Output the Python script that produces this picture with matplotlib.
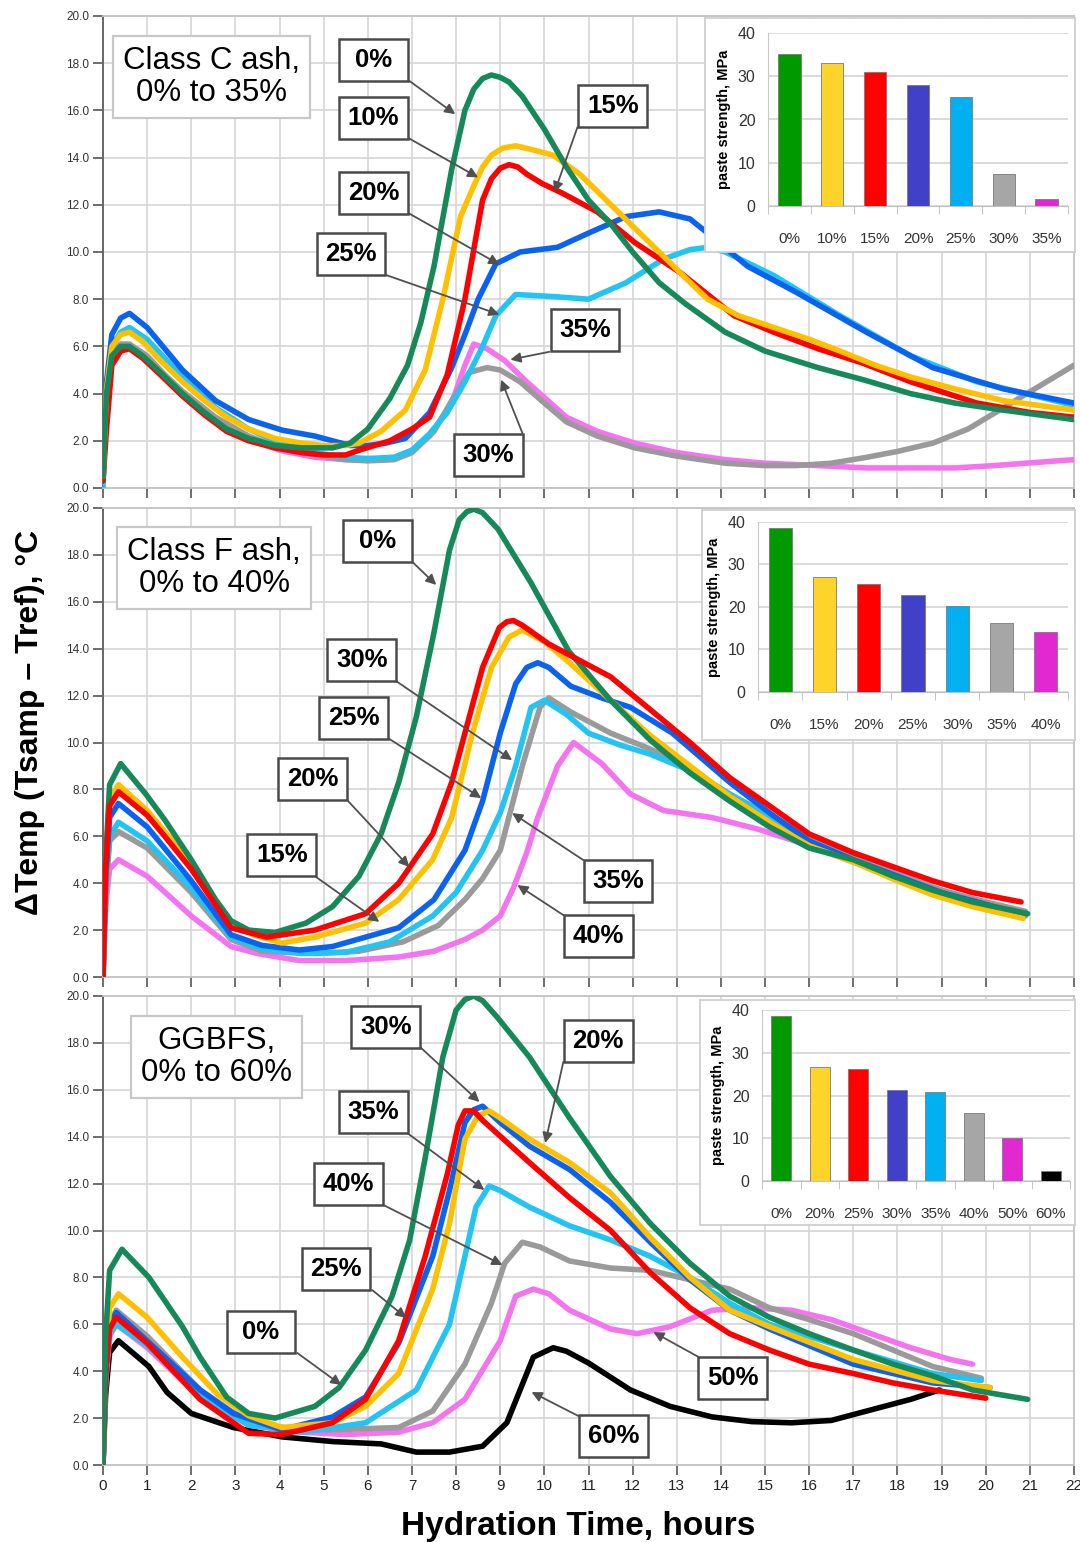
import numpy as np
import matplotlib.pyplot as plt
from matplotlib.patches import Rectangle

# ---------------- Class C ash (top panel) ----------------
c0_h = [0, 0.08, 0.2, 0.4, 0.6, 0.9, 1.3, 1.8, 2.3, 2.8, 3.3, 3.9, 4.5, 5.2, 5.6, 6.0, 6.5, 6.9, 7.2, 7.5, 7.9, 8.2, 8.4, 8.6, 8.8, 9.0, 9.2, 9.5, 10.0, 10.5, 11.0, 11.5, 12.0, 12.6, 13.2, 14.1, 15.0, 16.2, 17.2, 18.3, 19.3, 20.4, 21.2, 22]
c0_t = [0.5, 4.0, 5.6, 6.0, 6.0, 5.6, 4.9, 4.0, 3.2, 2.5, 2.1, 1.8, 1.7, 1.7, 1.9, 2.5, 3.8, 5.2, 7.0, 9.4, 13.5, 16.0, 16.9, 17.35, 17.5, 17.4, 17.2, 16.6, 15.2, 13.6, 12.2, 11.2, 10.0, 8.7, 7.8, 6.6, 5.8, 5.1, 4.6, 4.0, 3.6, 3.3, 3.1, 2.9]
c10_h = [0, 0.08, 0.2, 0.4, 0.6, 0.9, 1.3, 1.8, 2.3, 2.8, 3.3, 3.9, 4.5, 5.0, 5.5, 5.8, 6.3, 6.85, 7.3, 7.7, 8.1, 8.4, 8.6, 8.8, 9.05, 9.35, 9.8, 10.2, 10.8, 11.4, 12.0, 12.6, 13.2, 13.7, 14.4, 15.2, 16.0, 16.7, 17.5, 18.3, 19.3, 20.4, 21.2, 22]
c10_t = [0.5, 4.2, 6.0, 6.5, 6.6, 6.2, 5.4, 4.5, 3.7, 3.0, 2.5, 2.1, 1.9, 1.8, 1.8, 1.9, 2.4, 3.3, 5.0, 8.0, 11.5, 12.8, 13.6, 14.1, 14.4, 14.5, 14.3, 14.1, 13.3, 12.2, 11.1, 10.0, 8.9, 8.0, 7.3, 6.8, 6.3, 5.8, 5.2, 4.7, 4.2, 3.7, 3.5, 3.3]
c15_h = [0, 0.08, 0.2, 0.4, 0.6, 0.9, 1.3, 1.8, 2.3, 2.8, 3.3, 3.9, 4.5, 5.0, 5.5, 5.8, 6.5, 7.0, 7.4, 7.8, 8.2, 8.6, 8.8, 9.0, 9.2, 9.4, 9.6, 9.95, 10.4, 11.2, 12.05, 13.1, 14.3, 15.2, 16.2, 17.2, 18.3, 19.8, 21, 22]
c15_t = [0.3, 2.5, 5.2, 5.8, 5.9, 5.5, 4.8, 3.9, 3.1, 2.4, 2.0, 1.7, 1.5, 1.4, 1.4, 1.6, 2.0, 2.5, 3.0, 4.8, 8.0, 12.2, 13.1, 13.55, 13.7, 13.6, 13.3, 12.9, 12.5, 11.7, 10.4, 9.1, 7.3, 6.6, 5.9, 5.3, 4.5, 3.6, 3.2, 3.0]
c20_h = [0, 0.08, 0.2, 0.4, 0.6, 1.0, 1.4, 1.8, 2.55, 3.3, 4.06, 4.8, 5.2, 5.6, 6.0, 6.4, 6.85, 7.4, 7.9, 8.2, 8.5, 8.9, 9.45, 10.3, 11.0, 11.85, 12.6, 13.3, 13.7, 14.6, 15.7, 17.3, 18.8, 20.4, 22]
c20_t = [0.5, 4.5, 6.5, 7.2, 7.4, 6.8, 5.9, 5.0, 3.7, 2.9, 2.45, 2.2, 2.0, 1.8, 1.8, 1.9, 2.1, 3.2, 5.1, 6.5, 8.0, 9.5, 10.0, 10.2, 10.8, 11.5, 11.7, 11.4, 10.8, 9.4, 8.3, 6.6, 5.1, 4.2, 3.6]
c25_h = [0, 0.08, 0.2, 0.4, 0.6, 1.0, 1.4, 1.8, 2.55, 3.3, 4.0, 4.8, 5.5, 6.0, 6.6, 7.0, 7.4, 7.8, 8.2, 8.6, 8.9, 9.35, 10.3, 11.0, 11.85, 12.7, 13.3, 13.7, 14.1, 15.2, 16.7, 18.3, 19.8, 20.9, 22]
c25_t = [0.0, 3.8, 6.0, 6.6, 6.8, 6.3, 5.5, 4.7, 3.4, 2.5, 1.9, 1.5, 1.3, 1.25, 1.3, 1.6, 2.3, 3.2, 4.5, 6.0, 7.3, 8.2, 8.1, 8.0, 8.7, 9.7, 10.1, 10.2, 10.0, 9.0, 7.3, 5.6, 4.5, 4.0, 3.5]
c30_h = [0, 0.08, 0.2, 0.4, 0.6, 1.0, 1.4, 1.8, 2.55, 3.3, 4.0, 4.8, 5.5, 6.0, 6.6, 7.0, 7.5, 7.9, 8.3, 8.7, 9.0, 9.45, 10.0, 10.5, 11.2, 12.05, 13.0, 14.1, 15.0, 15.7, 16.5, 17.3, 18.0, 18.8, 19.6, 20.4, 21.2, 22]
c30_t = [0.3, 4.0, 5.7, 6.1, 6.1, 5.6, 4.8, 4.1, 3.0, 2.2, 1.7, 1.4, 1.2, 1.15, 1.2, 1.5, 2.4, 3.7, 4.9, 5.1, 5.0, 4.5, 3.6, 2.8, 2.2, 1.7, 1.35, 1.05, 0.95, 0.95, 1.05, 1.3, 1.55, 1.9, 2.5, 3.4, 4.3, 5.2]
c35_h = [0, 0.08, 0.2, 0.4, 0.6, 1.0, 1.4, 1.8, 2.55, 3.3, 4.0, 4.8, 5.5, 6.0, 6.6, 7.0, 7.4, 7.9, 8.2, 8.4, 8.7, 9.1, 9.6, 10.5, 11.2, 12.05, 13.0, 14.1, 15.0, 16.2, 17.3, 18.3, 19.3, 20.2, 20.9, 22]
c35_t = [0.3, 3.5, 5.5, 6.0, 6.0, 5.5, 4.7, 4.0, 2.9, 2.1, 1.6, 1.3, 1.2, 1.2, 1.3, 1.6, 2.2, 3.6, 5.2, 6.1, 5.9, 5.4, 4.5, 3.0, 2.4, 1.9, 1.5, 1.2, 1.05, 0.95, 0.85, 0.85, 0.85, 0.95, 1.05, 1.2]

# ---------------- Class F ash (middle panel) ----------------
f0_h = [0, 0.06, 0.15, 0.4, 0.97, 1.4, 2.0, 2.55, 2.9, 3.3, 3.9, 4.6, 5.2, 5.8, 6.3, 6.7, 7.1, 7.5, 7.85, 8.07, 8.25, 8.4, 8.6, 8.95, 9.7, 10.55, 11.5, 12.4, 13.3, 14.2, 15.1, 16.0, 17.0, 17.9, 18.8, 19.7, 20.95]
f0_t = [0.0, 5.0, 8.2, 9.1, 7.8, 6.7, 5.0, 3.3, 2.4, 2.0, 1.9, 2.3, 3.0, 4.3, 6.1, 8.3, 11.1, 14.7, 18.2, 19.5, 19.85, 19.95, 19.8, 19.1, 16.8, 13.9, 11.8, 10.1, 8.7, 7.5, 6.4, 5.5, 5.0, 4.3, 3.7, 3.2, 2.7]
f15_h = [0, 0.06, 0.15, 0.35, 1.0, 1.4, 2.0, 2.9, 3.4, 4.05, 4.8, 5.95, 6.7, 7.47, 7.9, 8.37, 8.8, 9.2, 9.5, 10.0, 10.57, 11.5, 12.4, 13.3, 14.2, 15.1, 16.0, 17.0, 18.0, 18.8, 19.7, 20.85]
f15_t = [0.0, 4.8, 7.6, 8.2, 7.1, 6.2, 4.8, 2.3, 1.8, 1.45, 1.7, 2.3, 3.3, 5.0, 6.8, 10.4, 13.2, 14.5, 14.8, 14.3, 13.4, 11.8, 10.3, 9.0, 7.7, 6.6, 5.6, 4.9, 4.1, 3.5, 3.0, 2.5]
f20_h = [0, 0.06, 0.15, 0.35, 1.0, 1.4, 2.0, 2.9, 3.7, 4.8, 5.95, 6.7, 7.47, 7.9, 8.2, 8.6, 8.98, 9.15, 9.3, 9.5, 10.1, 11.5, 12.4, 13.3, 14.2, 15.1, 16.0, 17.0, 17.9, 18.8, 19.7, 20.8]
f20_t = [0.0, 4.5, 7.3, 7.9, 6.9, 6.0, 4.6, 2.1, 1.7, 2.0, 2.7, 4.0, 6.1, 8.3, 10.4, 13.2, 14.9, 15.15, 15.2, 15.0, 14.2, 12.8, 11.4, 10.0, 8.5, 7.3, 6.1, 5.3, 4.7, 4.1, 3.6, 3.2]
f25_h = [0, 0.06, 0.15, 0.35, 1.0, 2.0, 2.9, 3.6, 4.45, 5.2, 6.7, 7.5, 8.2, 8.6, 9.0, 9.35, 9.6, 9.85, 10.1, 10.6, 11.3, 11.95, 12.9, 14.2, 15.1, 16.0, 17.0, 18.0, 19.0, 20.0, 20.85]
f25_t = [0.0, 4.2, 6.8, 7.4, 6.4, 4.1, 1.8, 1.35, 1.15, 1.3, 2.1, 3.3, 5.4, 7.5, 10.4, 12.5, 13.2, 13.4, 13.2, 12.4, 11.9, 11.5, 10.4, 8.3, 7.0, 5.8, 5.0, 4.3, 3.6, 3.1, 2.6]
f30_h = [0, 0.06, 0.15, 0.35, 1.0, 2.0, 2.9, 3.6, 4.5, 5.5, 6.5, 7.47, 8.0, 8.6, 9.0, 9.35, 9.7, 10.0, 10.5, 11.0, 11.7, 12.4, 13.3, 14.2, 15.1, 16.0, 17.0, 18.0, 19.0, 20.0, 20.9]
f30_t = [0.0, 3.8, 6.0, 6.6, 5.8, 3.8, 1.7, 1.2, 1.0, 1.05, 1.5, 2.6, 3.6, 5.4, 7.0, 9.0, 11.5, 11.8, 11.2, 10.4, 9.9, 9.5, 8.8, 7.8, 6.8, 5.8, 5.0, 4.3, 3.6, 3.1, 2.6]
f35_h = [0, 0.06, 0.15, 0.35, 1.0, 2.0, 2.9, 3.6, 4.8, 5.8, 6.8, 7.6, 8.2, 8.6, 9.0, 9.5, 9.9, 10.1, 10.6, 11.5, 12.3, 12.9, 14.2, 15.1, 16.0, 17.0, 18.0, 19.0, 20.0, 20.9]
f35_t = [0.0, 3.5, 5.8, 6.2, 5.5, 3.6, 1.6, 1.1, 1.0, 1.1, 1.5, 2.2, 3.3, 4.2, 5.4, 9.0, 11.5, 11.9, 11.3, 10.4, 9.8, 9.3, 7.8, 6.9, 6.0, 5.2, 4.4, 3.7, 3.2, 2.8]
f40_h = [0, 0.06, 0.15, 0.35, 1.0, 2.0, 2.9, 3.5, 4.45, 5.5, 6.7, 7.5, 8.2, 8.6, 9.0, 9.3, 9.6, 9.85, 10.3, 10.66, 11.3, 11.95, 12.7, 13.8, 14.85, 16.0, 17.0, 18.0, 19.0, 20.0, 20.9]
f40_t = [0.0, 3.0, 4.6, 5.0, 4.3, 2.6, 1.3, 1.0, 0.7, 0.7, 0.85, 1.1, 1.6, 2.0, 2.6, 3.8, 5.3, 6.8, 9.0, 10.0, 9.1, 7.8, 7.1, 6.8, 6.3, 5.6, 4.9, 4.3, 3.7, 3.1, 2.7]

# ---------------- GGBFS (bottom panel) ----------------
g0_h = [0, 0.06, 0.15, 0.43, 1.04, 1.8, 2.2, 2.8, 3.3, 3.9, 4.8, 5.35, 5.95, 6.55, 6.95, 7.3, 7.7, 8.0, 8.2, 8.4, 8.6, 8.93, 9.66, 10.57, 11.5, 12.4, 13.3, 14.2, 15.1, 16.0, 17.0, 17.9, 18.8, 19.7, 20.95]
g0_t = [0.0, 5.5, 8.3, 9.2, 8.0, 5.9, 4.6, 2.9, 2.2, 2.0, 2.5, 3.3, 4.9, 7.2, 9.6, 13.1, 17.4, 19.4, 19.85, 20.0, 19.8, 19.1, 17.4, 14.8, 12.3, 10.3, 8.6, 7.2, 6.3, 5.6, 4.9, 4.3, 3.8, 3.2, 2.8]
g20_h = [0, 0.06, 0.15, 0.35, 1.0, 1.8, 2.6, 3.3, 4.05, 5.2, 5.95, 6.7, 7.47, 7.85, 8.2, 8.5, 8.75, 9.0, 9.66, 10.57, 11.5, 12.4, 13.3, 14.2, 15.1, 17.0, 18.8, 20.1]
g20_t = [0.0, 4.3, 6.7, 7.3, 6.3, 4.6, 3.0, 2.1, 1.6, 1.8, 2.5, 3.9, 7.5, 10.3, 13.9, 14.9, 15.1, 14.8, 13.9, 12.9, 11.6, 9.7, 8.0, 6.6, 5.9, 4.5, 3.6, 3.3]
g25_h = [0, 0.06, 0.15, 0.3, 1.0, 2.2, 3.3, 4.05, 5.2, 5.95, 6.7, 7.3, 7.8, 8.05, 8.2, 8.4, 8.6, 9.66, 10.57, 11.5, 12.4, 13.3, 14.2, 15.1, 16.0, 17.0, 17.9, 18.8, 20.0]
g25_t = [0.0, 3.8, 5.8, 6.3, 5.2, 2.8, 1.35, 1.3, 1.8, 2.8, 5.3, 8.9, 12.4, 14.5, 15.1, 15.1, 14.7, 12.9, 11.4, 10.0, 8.2, 6.7, 5.6, 4.9, 4.3, 3.9, 3.5, 3.2, 2.85]
g30_h = [0, 0.06, 0.15, 0.3, 1.4, 2.2, 2.95, 4.05, 5.2, 5.95, 6.7, 7.47, 7.85, 8.2, 8.4, 8.6, 9.0, 9.66, 10.57, 11.5, 12.4, 13.3, 14.2, 15.1, 17.0, 18.8, 20.1]
g30_t = [0.0, 4.0, 6.0, 6.5, 4.6, 3.2, 2.2, 1.5, 2.05, 2.9, 5.2, 8.9, 11.7, 14.6, 15.15, 15.3, 14.6, 13.6, 12.6, 11.2, 9.5, 7.9, 6.6, 5.8, 4.3, 3.5, 3.3]
g35_h = [0, 0.06, 0.15, 0.3, 1.0, 2.2, 3.3, 4.5, 5.95, 7.1, 7.85, 8.2, 8.45, 8.75, 9.0, 9.66, 10.57, 11.5, 12.4, 13.3, 14.2, 15.1, 17.0, 18.8, 19.9]
g35_t = [0.0, 3.8, 5.6, 6.0, 5.1, 3.0, 1.7, 1.4, 1.8, 3.2, 6.0, 8.9, 11.0, 11.9, 11.7, 11.0, 10.2, 9.6, 8.9, 8.0, 6.9, 6.0, 4.9, 3.9, 3.6]
g40_h = [0, 0.06, 0.15, 0.3, 1.0, 2.2, 3.3, 4.5, 5.2, 6.7, 7.47, 8.2, 8.8, 9.1, 9.5, 9.9, 10.57, 11.5, 12.4, 13.3, 14.2, 15.1, 16.0, 17.0, 17.9, 18.8, 19.9]
g40_t = [0.0, 4.0, 6.0, 6.6, 5.5, 3.2, 1.8, 1.5, 1.5, 1.6, 2.3, 4.3, 6.9, 8.6, 9.5, 9.3, 8.7, 8.4, 8.3, 7.9, 7.5, 6.7, 6.2, 5.6, 4.9, 4.2, 3.7]
g50_h = [0, 0.06, 0.15, 0.3, 1.0, 2.2, 3.3, 4.5, 5.5, 6.7, 7.47, 8.2, 9.0, 9.35, 9.75, 10.1, 10.57, 11.5, 12.1, 12.85, 13.8, 14.7, 15.6, 16.5, 17.4, 18.3, 19.2, 19.7]
g50_t = [0.0, 3.5, 5.5, 6.0, 5.0, 2.9, 1.7, 1.4, 1.3, 1.4, 1.8, 2.8, 5.3, 7.2, 7.5, 7.3, 6.6, 5.8, 5.6, 5.9, 6.6, 6.7, 6.6, 6.2, 5.6, 5.0, 4.5, 4.3]
g60_h = [0, 0.06, 0.15, 0.35, 1.04, 1.45, 2.0, 2.95, 4.05, 5.2, 6.3, 7.1, 7.85, 8.6, 9.15, 9.45, 9.75, 10.2, 10.5, 11.0, 11.95, 12.85, 13.8, 14.7, 15.6, 16.5, 17.4, 18.3, 18.95]
g60_t = [0.0, 3.0, 4.8, 5.3, 4.2, 3.1, 2.2, 1.6, 1.2, 1.0, 0.9, 0.55, 0.55, 0.8, 1.8, 3.2, 4.6, 5.0, 4.85, 4.35, 3.2, 2.5, 2.05, 1.85, 1.8, 1.9, 2.35, 2.8, 3.2]

# ---------------- inset bar charts: paste strength, MPa ----------------
c_cats = ['0%', '10%', '15%', '20%', '25%', '30%', '35%']
c_strength = [35.2, 33.0, 31.0, 28.0, 25.2, 7.5, 1.7]
f_cats = ['0%', '15%', '20%', '25%', '30%', '35%', '40%']
f_strength = [38.5, 27.0, 25.5, 22.8, 20.2, 16.2, 14.0]
g_cats = ['0%', '20%', '25%', '30%', '35%', '40%', '50%', '60%']
g_strength = [38.7, 26.6, 26.2, 21.2, 20.8, 15.8, 10.0, 2.3]

GREEN, YELLOW, RED, BLUE = '#15895a', '#ffc000', '#ff0000', '#0a62f0'
CYAN, GRAY, MAG, BLACK = '#22c4f4', '#9a9a9a', '#f474f0', '#000000'
BAR_COLS = ['#009a00', '#ffd42a', '#ff0000', '#4040c8', '#00b0f0', '#a6a6a6', '#e228d0', '#000000']

SANS = ['Liberation Sans', 'DejaVu Sans']
NARROW = ['Liberation Sans Narrow', 'Liberation Sans', 'DejaVu Sans']

fig = plt.figure(figsize=(10.8, 15.42), dpi=100)


def panel(rect, curves, xlabels):
    ax = fig.add_axes(rect)
    for h, t, col in curves:
        ax.plot(h, t, color=col, lw=4.0, solid_joinstyle='round',
                solid_capstyle='round', zorder=3)
    ax.set_xlim(0, 22)
    ax.set_ylim(0, 20)
    ax.set_xticks(range(23))
    ax.set_yticks(np.arange(0, 21, 2))
    ax.set_yticklabels([f'{v:.1f}' for v in np.arange(0, 21, 2)],
                       family=NARROW, fontsize=8.5, color='#333333')
    if xlabels:
        ax.set_xticklabels([str(i) for i in range(23)], family=NARROW,
                           fontsize=11, color='#222222')
    else:
        ax.set_xticklabels([])
    ax.tick_params(direction='out', length=7, width=1.2, color='#555555', pad=3)
    ax.grid(color='#d6d6d6', lw=1.2)
    ax.set_axisbelow(True)
    for s in ['top', 'right', 'bottom']:
        ax.spines[s].set_color('#c4c4c4')
        ax.spines[s].set_linewidth(1.3)
    ax.spines['left'].set_color('#666666')
    ax.spines['left'].set_linewidth(1.4)
    return ax


def title_box(ax, x, y, s):
    ax.text(x, y, s, ha='center', va='center', fontsize=22.5, family=SANS,
            linespacing=1.1, zorder=6,
            bbox=dict(boxstyle='square,pad=0.32', fc='white', ec='#c8c8c8', lw=1.6))


# label boxes are about 69 x 42 px: 1.56 h wide, 1.79 degC tall
BOX_W, BOX_H = 1.56, 1.79


def tag(ax, s, center, start, end):
    ax.annotate('', xy=end, xytext=start, zorder=5,
                arrowprops=dict(arrowstyle='-|>', color='#505050', lw=1.3,
                                mutation_scale=15, shrinkA=0, shrinkB=0))
    ax.add_patch(Rectangle((center[0] - BOX_W / 2, center[1] - BOX_H / 2), BOX_W, BOX_H,
                           fc='white', ec='#4a4a4a', lw=1.8, zorder=6))
    ax.text(center[0], center[1], s, ha='center', va='center', fontsize=18.5,
            fontweight='bold', family=SANS, zorder=7)


def inset(frame, rect, cats, vals):
    fr = fig.add_axes(frame)
    fr.set_xticks([])
    fr.set_yticks([])
    for s in fr.spines.values():
        s.set_color('#d0d0d0')
        s.set_linewidth(1.3)
    bx = fig.add_axes(rect)
    n = len(cats)
    bx.bar(range(n), vals, width=0.52, color=BAR_COLS[:n], edgecolor='#7a7a7a',
           lw=0.6, zorder=3)
    bx.set_xlim(-0.5, n - 0.5)
    bx.set_ylim(0, 40)
    bx.set_yticks([0, 10, 20, 30, 40])
    bx.set_yticklabels(['0', '10', '20', '30', '40'], family=NARROW,
                       fontsize=11.5, color='#333333')
    bx.set_xticks(range(n))
    bx.set_xticklabels(cats, family=NARROW, fontsize=11, color='#333333')
    bx.set_xticks(np.arange(n + 1) - 0.5, minor=True)
    bx.tick_params(axis='x', which='major', length=0, pad=19)
    bx.tick_params(axis='x', which='minor', length=6, color='#bbbbbb', direction='out')
    bx.tick_params(axis='y', length=0, pad=9)
    bx.grid(axis='y', color='#d4d4d4', lw=1.2)
    bx.set_axisbelow(True)
    bx.spines['top'].set_visible(False)
    bx.spines['right'].set_visible(False)
    bx.spines['left'].set_color('#c8c8c8')
    bx.spines['bottom'].set_color('#c0c0c0')
    bx.set_ylabel('paste strength, MPa', fontsize=10.5, fontweight='bold',
                  family=SANS, labelpad=5)
    bx.patch.set_alpha(0)


L, W = 103 / 1080, 971 / 1080

# top panel
ax1 = panel([L, 1 - 488 / 1542, W, 472 / 1542],
            [(c35_h, c35_t, MAG), (c30_h, c30_t, GRAY), (c25_h, c25_t, CYAN),
             (c20_h, c20_t, BLUE), (c15_h, c15_t, RED), (c10_h, c10_t, YELLOW),
             (c0_h, c0_t, GREEN)], False)
title_box(ax1, 2.46, 17.43, 'Class C ash,\n0% to 35%')
tag(ax1, '0%', (6.13, 18.13), (6.89, 17.32), (7.98, 15.84))
tag(ax1, '10%', (6.12, 15.67), (6.89, 14.86), (8.50, 13.16))
tag(ax1, '20%', (6.13, 12.51), (6.89, 11.68), (8.98, 9.47))
tag(ax1, '25%', (5.62, 9.92), (6.39, 9.04), (8.98, 7.35))
tag(ax1, '15%', (11.55, 16.2), (10.75, 15.29), (10.23, 12.53))
tag(ax1, '35%', (10.92, 6.69), (10.11, 5.77), (9.23, 5.44))
tag(ax1, '30%', (8.73, 1.40), (9.5, 2.34), (9.02, 4.59))

# middle panel
ax2 = panel([L, 1 - 977 / 1542, W, 469 / 1542],
            [(f40_h, f40_t, MAG), (f35_h, f35_t, GRAY), (f30_h, f30_t, CYAN),
             (f25_h, f25_t, BLUE), (f15_h, f15_t, YELLOW), (f0_h, f0_t, GREEN),
             (f20_h, f20_t, RED)], False)
title_box(ax2, 2.52, 17.44, 'Class F ash,\n0% to 40%')
tag(ax2, '0%', (6.21, 18.59), (7.01, 17.70), (7.55, 16.72))
tag(ax2, '30%', (5.86, 13.52), (6.64, 12.62), (9.27, 9.25))
tag(ax2, '25%', (5.68, 11.04), (6.49, 10.15), (8.57, 7.63))
tag(ax2, '20%', (4.75, 8.46), (5.53, 7.55), (6.94, 4.69))
tag(ax2, '15%', (4.05, 5.22), (4.83, 4.26), (6.26, 2.35))
tag(ax2, '35%', (11.67, 4.09), (10.88, 4.99), (9.27, 6.99))
tag(ax2, '40%', (11.22, 1.75), (10.43, 2.64), (9.39, 3.92))

# bottom panel
ax3 = panel([L, 1 - 1465 / 1542, W, 469 / 1542],
            [(g60_h, g60_t, BLACK), (g50_h, g50_t, MAG), (g40_h, g40_t, GRAY),
             (g35_h, g35_t, CYAN), (g30_h, g30_t, BLUE), (g20_h, g20_t, YELLOW),
             (g25_h, g25_t, RED), (g0_h, g0_t, GREEN)], True)
title_box(ax3, 2.57, 17.40, 'GGBFS,\n0% to 60%')
tag(ax3, '30%', (6.41, 18.66), (7.21, 17.78), (8.53, 15.48))
tag(ax3, '20%', (11.22, 18.10), (10.43, 17.19), (10.02, 13.73))
tag(ax3, '35%', (6.12, 15.05), (6.89, 14.16), (8.64, 11.73))
tag(ax3, '40%', (5.56, 12.0), (6.35, 11.09), (9.05, 8.53))
tag(ax3, '25%', (5.28, 8.36), (6.1, 7.46), (6.87, 6.27))
tag(ax3, '0%', (3.58, 5.67), (4.40, 4.78), (5.40, 3.41))
tag(ax3, '50%', (14.27, 3.69), (13.49, 4.61), (12.47, 5.67))
tag(ax3, '60%', (11.56, 1.22), (10.77, 2.09), (9.71, 3.11))

# inset bar charts
inset([705 / 1080, 1 - 252 / 1542, 370 / 1080, 234 / 1542],
      [768 / 1080, 1 - 206 / 1542, 300 / 1080, 173 / 1542], c_cats, c_strength)
inset([702 / 1080, 1 - 740 / 1542, 373 / 1080, 230 / 1542],
      [758 / 1080, 1 - 692 / 1542, 310 / 1080, 170 / 1542], f_cats, f_strength)
inset([700 / 1080, 1 - 1225 / 1542, 375 / 1080, 225 / 1542],
      [762 / 1080, 1 - 1181 / 1542, 308 / 1080, 171 / 1542], g_cats, g_strength)

fig.text(30 / 1080, 1 - 722 / 1542, 'ΔTemp (Tsamp – Tref), °C', rotation=90,
         ha='center', va='center', fontsize=23, fontweight='bold', family=SANS)
fig.text(578 / 1080, 1 - 1527 / 1542, 'Hydration Time, hours', ha='center',
         va='center', fontsize=24, fontweight='bold', family=NARROW)

fig.savefig('out.png', dpi=100)
